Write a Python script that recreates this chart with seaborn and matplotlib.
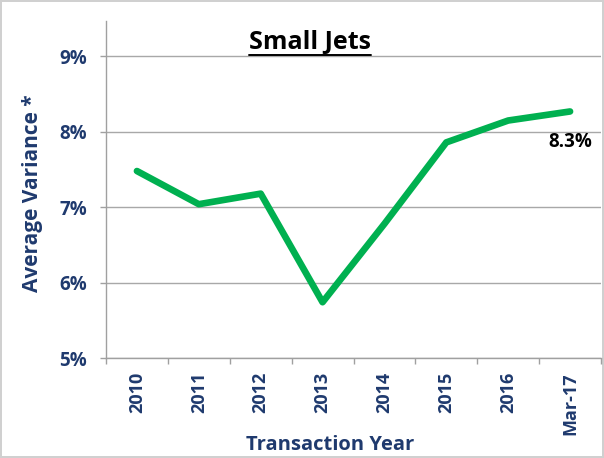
import matplotlib
matplotlib.use("Agg")
import matplotlib.pyplot as plt
import seaborn as sns
import pandas as pd
from matplotlib.lines import Line2D

years = ['2010', '2011', '2012', '2013', '2014', '2015', '2016', 'Mar-17']
variance = [7.48, 7.04, 7.18, 5.74, 6.78, 7.86, 8.15, 8.27]
end_label = '8.3%'
yticks = [5, 6, 7, 8, 9]

navy = '#1F3A6E'
green = '#00B050'

sns.set_theme(style='white')
plt.rcParams['font.family'] = ['Open Sans', 'DejaVu Sans']

df = pd.DataFrame({'year': years, 'variance': variance})

fig = plt.figure(figsize=(6.04, 4.58), dpi=100)
fig.patch.set_edgecolor('#D0D0D0')
fig.patch.set_linewidth(1.5)
ax = fig.add_axes([106 / 604, 1 - 358 / 458, 495 / 604, 337 / 458])

sns.lineplot(data=df, x='year', y='variance', ax=ax, color=green, linewidth=4.8,
             solid_capstyle='round', solid_joinstyle='round', sort=False)

ax.set_xlim(-0.5, len(years) - 0.5)
ax.set_ylim(5, 9.47)
ax.set_yticks(yticks)
ax.set_yticklabels([f'{v}%' for v in yticks], fontsize=13.5, fontweight='bold', color=navy)
ax.set_xticks(range(len(years)))
ax.set_xticklabels(years, rotation=90, fontsize=13, fontweight='bold', color=navy)
ax.set_xticks([i - 0.5 for i in range(len(years) + 1)], minor=True)
ax.tick_params(axis='x', which='major', length=0, pad=10)
ax.tick_params(axis='x', which='minor', length=4.5, color='#A0A0A0', width=1, bottom=True)
ax.tick_params(axis='y', length=4.5, color='#A0A0A0', width=1, left=True, pad=9)

ax.grid(axis='y', color='#A8A8A8', linewidth=1)
for s in ['top', 'right']:
    ax.spines[s].set_visible(False)
for s in ['left', 'bottom']:
    ax.spines[s].set_color('#A0A0A0')
    ax.spines[s].set_linewidth(1)

ax.set_xlabel('Transaction Year', fontsize=14.5, fontweight='bold', color=navy)
ax.set_ylabel('Average Variance *', fontsize=15, fontweight='bold', color=navy)
ax.xaxis.set_label_coords(0.4525, -0.228)
ax.yaxis.set_label_coords(-0.128, 0.49)

ax.annotate(end_label, xy=(len(years) - 1, variance[-1]), xytext=(0, -22),
            textcoords='offset points', ha='center', va='center',
            fontsize=13.5, fontweight='bold', color='black')

title = fig.text(310 / 604, 1 - 42 / 458, 'Small Jets', ha='center', va='center',
                 fontsize=18, fontweight='bold', color='black')
fig.canvas.draw()
bb = title.get_window_extent().transformed(fig.transFigure.inverted())
fig.add_artist(Line2D([bb.x0, bb.x1], [bb.y0 - 0.002, bb.y0 - 0.002], color='black',
                      linewidth=1.4, transform=fig.transFigure))

fig.savefig('out.png', dpi=100)
